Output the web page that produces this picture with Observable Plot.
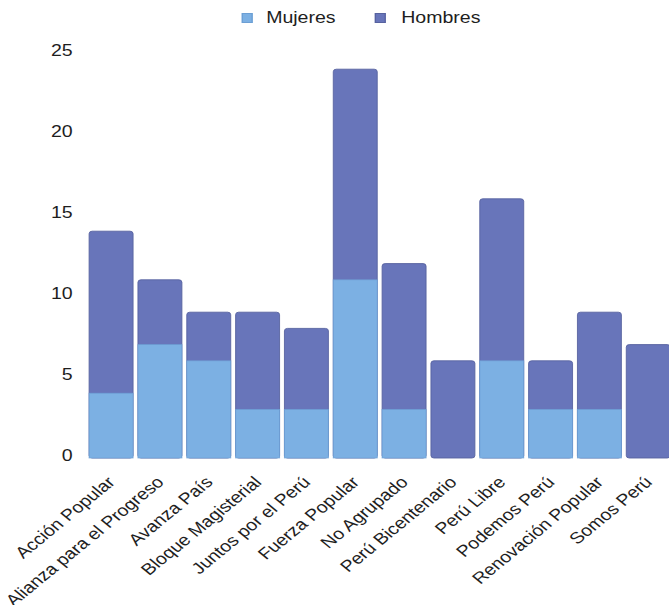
<!DOCTYPE html>
<html>
<head>
<meta charset="utf-8">
<script src="https://cdn.jsdelivr.net/npm/d3@7"></script>
<script src="https://cdn.jsdelivr.net/npm/@observablehq/plot@0.6"></script>
<style>
  html, body { margin: 0; padding: 0; background: #fff; overflow: hidden; }
  #wrap { width: 548px; transform: scaleX(1.2208); transform-origin: 0 0; font-family: "Liberation Sans", Arial, sans-serif; color: #1e1e1e; }
  #legend { position: relative; height: 34px; font-size: 16px; }
  #legend .sw { position: absolute; top: 13px; width: 9px; height: 10px; box-sizing: border-box; }
  #legend .lb { position: absolute; top: 8px; line-height: 20px; }
</style>
</head>
<body>
<div id="wrap">
  <div id="legend"></div>
  <div id="chart"></div>
</div>
<script>
const partidos = ["Acción Popular","Alianza para el Progreso","Avanza País","Bloque Magisterial","Juntos por el Perú","Fuerza Popular","No Agrupado","Perú Bicentenario","Perú Libre","Podemos Perú","Renovación Popular","Somos Perú"];
const mujeres = [4, 7, 6, 3, 3, 11, 3, 0, 6, 3, 3, 0];
const hombres = [10, 4, 3, 6, 5, 13, 9, 6, 10, 3, 6, 7];
const series = ["Mujeres", "Hombres"];
const colores = ["#7cb0e3", "#6875ba"];
const bordes = ["#6c9fd4", "#57629f"];
const yTicks = [0, 5, 10, 15, 20, 25];

const data = partidos.map((p, i) => ({partido: p, m: mujeres[i], h: hombres[i], total: mujeres[i] + hombres[i]}));

// legend
const legend = document.getElementById("legend");
const legendPos = [[197.5, 218], [306.5, 328.7]];
series.forEach((s, i) => {
  const sw = document.createElement("div");
  sw.className = "sw";
  sw.style.left = legendPos[i][0] + "px";
  sw.style.background = colores[i];
  sw.style.border = "1px solid " + bordes[i];
  legend.appendChild(sw);
  const lb = document.createElement("div");
  lb.className = "lb";
  lb.style.left = legendPos[i][1] + "px";
  lb.textContent = s;
  legend.appendChild(lb);
});

const chart = Plot.plot({
  width: 548,
  height: 571,
  marginTop: 19,
  marginBottom: 147,
  marginLeft: 70,
  marginRight: 0,
  style: {fontFamily: "'Liberation Sans', Arial, sans-serif", fontSize: "16px", color: "#1e1e1e", background: "transparent", overflow: "hidden"},
  x: {type: "band", domain: partidos, range: [70.1, 552], paddingInner: 0.1, paddingOuter: 0.05, label: null},
  y: {domain: [0, 25], label: null},
  color: {domain: series, range: colores},
  marks: [
    Plot.barY(data, {x: "partido", y: "total", fill: () => "Hombres", stroke: bordes[1], strokeWidth: 0.8, rx: 2.5}),
    Plot.barY(data.filter(d => d.m > 0), {x: "partido", y: "m", fill: () => "Mujeres", stroke: bordes[0], strokeWidth: 0.8, strokeOpacity: 0.8}),
    Plot.axisY({ticks: yTicks, tickSize: 0, tickPadding: 11, dy: -3, fontSize: 16, label: null}),
    Plot.axisX({tickSize: 0, tickRotate: -45, tickPadding: 17, dx: 0, dy: 4, fontSize: 16, label: null})
  ]
});
document.getElementById("chart").appendChild(chart);
</script>
</body>
</html>
